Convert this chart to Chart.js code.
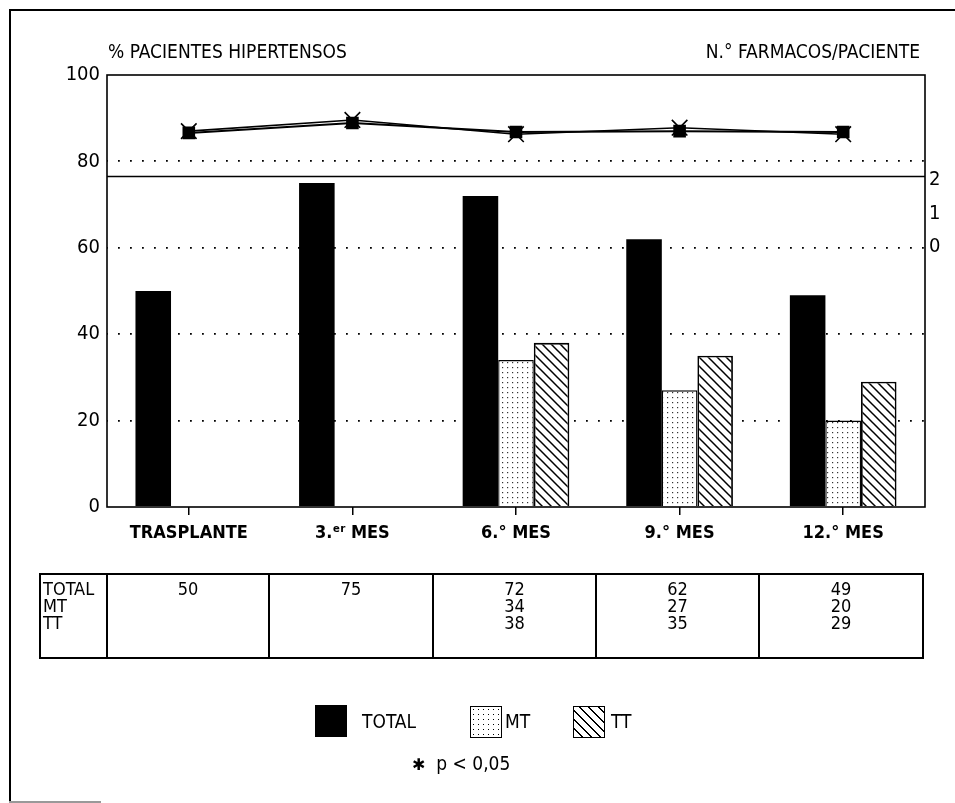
<!DOCTYPE html>
<html><head><meta charset="utf-8">
<script src="https://cdn.jsdelivr.net/npm/chart.js@4.4.1/dist/chart.umd.min.js"></script>
<style>
html,body{margin:0;padding:0;background:#fff;}
body{width:955px;height:803px;position:relative;overflow:hidden;font-family:'Liberation Sans Narrow','DejaVu Sans Condensed',sans-serif;color:#000;}
#chartBox{position:absolute;left:0;top:0;width:955px;height:803px;}
.frameTop{position:absolute;left:10px;top:9px;width:945px;height:2px;background:#000;}
.frameLeft{position:absolute;left:9px;top:9px;width:2px;height:794px;background:#000;}
.frameBottom{position:absolute;left:9px;top:801px;width:92px;height:2px;background:#999;}
.title{position:absolute;font-size:19px;line-height:19px;top:42px;white-space:nowrap;}
#tbl{position:absolute;left:39px;top:573px;width:883px;height:86px;border-collapse:collapse;table-layout:fixed;}
#tbl td{border:2px solid #000;vertical-align:top;padding:5px 0 0 0;font-size:18px;line-height:17px;text-align:center;overflow:hidden;}
#tbl td.first{text-align:left;padding-left:2px;}
.leg{position:absolute;font-size:19px;line-height:19px;white-space:nowrap;}
.sw{position:absolute;width:32px;height:32px;box-sizing:border-box;border:1.5px solid #000;}
</style>
</head><body>
<div class="frameTop"></div><div class="frameLeft"></div><div class="frameBottom"></div>
<div id="chartBox"><canvas id="c" width="955" height="803"></canvas></div>
<div class="title" style="left:108px;">% PACIENTES HIPERTENSOS</div>
<div class="title" style="right:35px;">N.° FARMACOS/PACIENTE</div>
<table id="tbl"><colgroup id="cols"></colgroup><tbody><tr id="tblRow"></tr></tbody></table>
<div class="sw" style="left:315px;top:705px;background:#000;"></div>
<div class="leg" style="left:362px;top:712px;">TOTAL</div>
<div class="sw" style="left:470px;top:706px;background-color:#fff;background-image:radial-gradient(circle,#000 0.6px,transparent 0.9px);background-size:5px 5px;"></div>
<div class="leg" style="left:505px;top:712px;">MT</div>
<div class="sw" style="left:573px;top:706px;background:repeating-linear-gradient(45deg,#fff 0 5px,#000 5px 6.5px);"></div>
<div class="leg" style="left:611px;top:712px;">TT</div>
<div class="leg" style="left:412px;top:754px;"><span style="font-family:'DejaVu Sans';font-size:16px;">✱</span>&nbsp; p &lt; 0,05</div>
<script>
// ---- data ----
const categories = ['TRASPLANTE', '3.ᵉʳ MES', '6.° MES', '9.° MES', '12.° MES'];
const totalValues = [50, 75, 72, 62, 49];
const mtValues = [null, null, 34, 27, 20];
const ttValues = [null, null, 38, 35, 29];
const lineSquareValues = [86.6, 88.9, 86.8, 87.0, 86.8];
const lineCrossValues = [87.0, 89.6, 86.3, 87.8, 86.3];
const leftTicks = [0, 20, 40, 60, 80, 100];
const rightTicks = [0, 1, 2];
const tableRowLabels = ['TOTAL', 'MT', 'TT'];

// ---- table from data ----
(function(){
  const row = document.getElementById('tblRow');
  const cols = document.getElementById('cols');
  const widths = [67, 162, 164, 163, 163, 164];
  widths.forEach(w => { const c = document.createElement('col'); c.style.width = w + 'px'; cols.appendChild(c); });
  const first = document.createElement('td');
  first.className = 'first';
  first.innerHTML = tableRowLabels.join('<br>');
  row.appendChild(first);
  categories.forEach((c, i) => {
    const td = document.createElement('td');
    const vals = [totalValues[i], mtValues[i], ttValues[i]].filter(v => v !== null);
    td.innerHTML = vals.join('<br>');
    row.appendChild(td);
  });
})();

// ---- patterns ----
function makeHatch(){
  const c = document.createElement('canvas'); c.width = 9; c.height = 9;
  const g = c.getContext('2d');
  g.fillStyle = '#fff'; g.fillRect(0, 0, 9, 9);
  g.strokeStyle = '#000'; g.lineWidth = 1.5;
  g.beginPath();
  g.moveTo(-1, -1); g.lineTo(10, 10);
  g.moveTo(-1, 8); g.lineTo(1, 10);
  g.moveTo(8, -1); g.lineTo(10, 1);
  g.stroke();
  return g.createPattern(c, 'repeat');
}
function makeDots(){
  const c = document.createElement('canvas'); c.width = 5; c.height = 5;
  const g = c.getContext('2d');
  g.fillStyle = '#fff'; g.fillRect(0, 0, 5, 5);
  g.fillStyle = '#333'; g.fillRect(2, 2, 1.2, 1.2);
  return g.createPattern(c, 'repeat');
}

const FONT = "'Liberation Sans Narrow','DejaVu Sans Condensed',sans-serif";
const SEPARATOR_VALUE = 76.5;

const framePlugin = {
  id: 'frame',
  afterDatasetsDraw(chart){
    const {ctx, chartArea: a, scales} = chart;
    ctx.save();
    ctx.strokeStyle = '#000';
    ctx.lineWidth = 1.6;
    ctx.strokeRect(a.left, a.top, a.right - a.left, a.bottom - a.top);
    const ys = scales.y.getPixelForValue(SEPARATOR_VALUE);
    ctx.beginPath(); ctx.moveTo(a.left, ys); ctx.lineTo(a.right, ys); ctx.stroke();
    ctx.restore();
  }
};

new Chart(document.getElementById('c'), {
  data: {
    labels: categories,
    datasets: [
      {type: 'line', label: 'A', data: lineSquareValues, yAxisID: 'y', order: 0,
       borderColor: '#000', borderWidth: 2, pointStyle: 'rect', pointRadius: 7.5,
       pointBackgroundColor: '#000', pointBorderColor: '#000', fill: false, tension: 0},
      {type: 'line', label: 'B', data: lineCrossValues, yAxisID: 'y', order: 0,
       borderColor: '#000', borderWidth: 1.6, pointStyle: 'crossRot', pointRadius: 11,
       pointBorderWidth: 1.6, pointBorderColor: '#000', fill: false, tension: 0},
      {type: 'bar', label: 'TOTAL', data: totalValues, yAxisID: 'y', order: 1,
       backgroundColor: '#000', borderWidth: 0},
      {type: 'bar', label: 'MT', data: mtValues, yAxisID: 'y', order: 1,
       backgroundColor: makeDots(), borderColor: '#000', borderWidth: 1.3},
      {type: 'bar', label: 'TT', data: ttValues, yAxisID: 'y', order: 1,
       backgroundColor: makeHatch(), borderColor: '#000', borderWidth: 1.8}
    ]
  },
  options: {
    responsive: false,
    animation: false,
    events: [],
    layout: {padding: {left: 47, right: 5, top: 75, bottom: 251}},
    datasets: {bar: {categoryPercentage: 0.652, barPercentage: 1.0}},
    plugins: {legend: {display: false}, tooltip: {enabled: false}},
    scales: {
      x: {
        type: 'category',
        offset: true,
        afterFit(s){ s.height = 45; },
        border: {display: false},
        grid: {offset: false, drawOnChartArea: false, drawTicks: true, tickLength: 8, color: '#000', lineWidth: 1.5},
        ticks: {color: '#000', padding: 8, maxRotation: 0, autoSkip: false,
                font: {family: FONT, size: 18, weight: 'bold'}}
      },
      y: {
        position: 'left', min: 0, max: 100,
        afterBuildTicks(s){ s.ticks = leftTicks.map(v => ({value: v})); },
        afterFit(s){ s.width = 60; },
        border: {display: false, dash: [1.8, 10.2], dashOffset: 1},
        grid: {drawTicks: false, lineWidth: 1.8,
               color: (ctx) => (ctx.tick && (ctx.tick.value === 0 || ctx.tick.value === 100)) ? 'rgba(0,0,0,0)' : '#000'},
        ticks: {color: '#000', padding: 7, font: {family: FONT, size: 20}}
      },
      y2: {
        position: 'right', min: -7.76, max: 5.13,
        afterBuildTicks(s){ s.ticks = rightTicks.map(v => ({value: v})); },
        afterFit(s){ s.width = 25; },
        border: {display: false},
        grid: {display: false, drawTicks: false},
        ticks: {color: '#000', padding: 4, font: {family: FONT, size: 20}}
      }
    }
  },
  plugins: [framePlugin]
});
</script>
</body></html>
